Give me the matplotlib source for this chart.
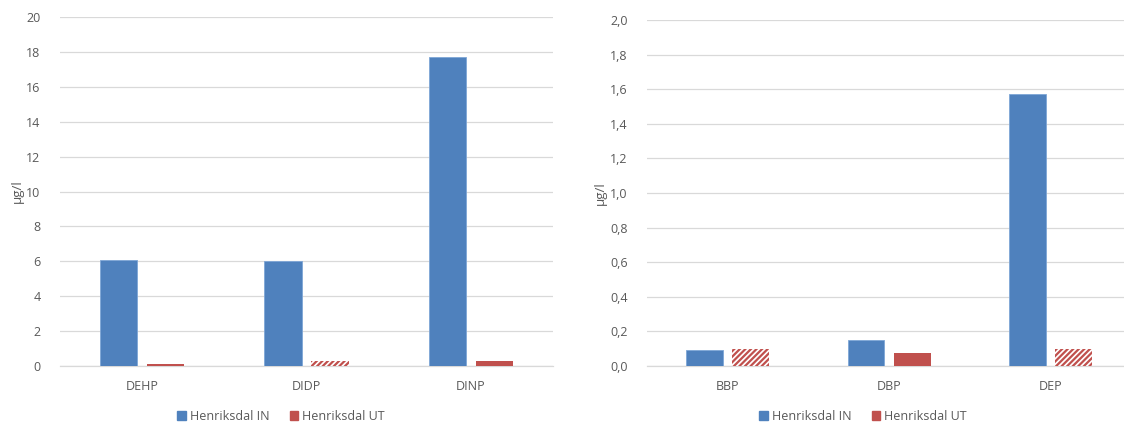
import matplotlib.pyplot as plt
import numpy as np

plt.rcParams['font.family'] = ['Open Sans', 'DejaVu Sans']
plt.rcParams['hatch.linewidth'] = 1.6

# high molecular weight phthalates (left) and low (right), µg/l
left_cats = ['DEHP', 'DIDP', 'DINP']
left_in = [6.07, 6.0, 17.7]
left_ut = [0.1, 0.3, 0.3]
left_ut_hatched = [False, True, False]

right_cats = ['BBP', 'DBP', 'DEP']
right_in = [0.093, 0.15, 1.57]
right_ut = [0.1, 0.075, 0.1]
right_ut_hatched = [True, False, True]

left_ticks = np.arange(0, 21, 2)
right_ticks = np.arange(0, 2.01, 0.2)

BLUE = '#4F81BD'
RED = '#C0504D'
GRID = '#D9D9D9'
TXT = '#595959'

fig = plt.figure(figsize=(11.24, 4.25), dpi=100)
ax1 = fig.add_axes([0.0534, 0.1388, 0.4386, 0.8212])
# right panel runs slightly past the figure edge
ax2 = fig.add_axes([0.5756, 0.1388, 0.4310, 0.8142])


def draw(ax, cats, vin, vut, hatched, ticks, fmt):
    x = np.arange(len(cats))
    w = 0.227
    off = 0.143
    b_in = ax.bar(x - off, vin, w, color=BLUE, edgecolor='#7EA6D6',
                  linewidth=0.6, label='Henriksdal IN', zorder=3)
    for xi, v, h in zip(x, vut, hatched):
        if h:
            ax.bar(xi + off, v, w, color='white', edgecolor=RED,
                   hatch='//////', linewidth=0, zorder=3)
        else:
            ax.bar(xi + off, v, w, color=RED, linewidth=0, zorder=3)
    ax.set_xlim(-0.5, len(cats) - 0.5)
    ax.set_ylim(0, ticks[-1])
    ax.set_yticks(ticks)
    ax.set_yticklabels([fmt(t) for t in ticks])
    ax.set_xticks(x)
    ax.set_xticklabels(cats)
    ax.yaxis.grid(True, color=GRID, linewidth=0.9)
    ax.set_axisbelow(True)
    for s in ['top', 'right', 'left']:
        ax.spines[s].set_visible(False)
    ax.spines['bottom'].set_color(GRID)
    ax.spines['bottom'].set_linewidth(0.9)
    ax.tick_params(axis='both', length=0, colors=TXT, labelsize=9)
    ax.tick_params(axis='x', pad=10)
    ax.tick_params(axis='y', pad=14)
    ax.set_ylabel('µg/l', color=TXT, fontsize=9.5, labelpad=2)
    return b_in


draw(ax1, left_cats, left_in, left_ut, left_ut_hatched, left_ticks,
     lambda t: f'{int(t)}')
draw(ax2, right_cats, right_in, right_ut, right_ut_hatched, right_ticks,
     lambda t: f'{t:.1f}'.replace('.', ','))

# legend handles: plain blue and red squares
h_in = plt.Rectangle((0, 0), 1, 1, color=BLUE)
h_ut = plt.Rectangle((0, 0), 1, 1, color=RED)
for cx in (281 / 1124, 863 / 1124):
    fig.legend([h_in, h_ut], ['Henriksdal IN', 'Henriksdal UT'],
               loc='center', bbox_to_anchor=(cx, 1 - 416 / 425), ncol=2,
               frameon=False, fontsize=9, labelcolor=TXT,
               handlelength=0.7, handleheight=0.7, handletextpad=0.3,
               columnspacing=1.6)

fig.savefig('out.png', dpi=100)
